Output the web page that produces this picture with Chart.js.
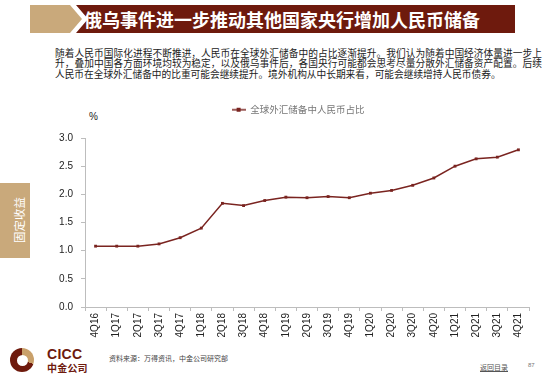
<!DOCTYPE html>
<html>
<head>
<meta charset="utf-8">
<script src="https://cdn.jsdelivr.net/npm/chart.js@4"></script>
<style>
  body { margin: 0; background: #fff; }
  #page { position: relative; width: 550px; height: 384px; overflow: hidden; font-family: "Noto Sans CJK SC", sans-serif; }
  .abs { position: absolute; }
  #tab { left: 30px; top: 5px; width: 52px; height: 28px; background: #c9a97b;
         clip-path: polygon(0 0, 40px 0, 52px 14px, 40px 28px, 0 28px); }
  #bar { left: 76px; top: 5px; width: 439px; height: 28px; background: #6e1a0d;
         clip-path: polygon(0 0, 439px 0, 439px 28px, 0 28px, 12px 14px); }
  #title { left: 84px; top: 5px; height: 28px; line-height: 28px; color: #fff; font-size: 18px; font-weight: bold; white-space: nowrap; }
  #para { left: 55px; top: 48px; width: 487px; font-size: 9.7px; line-height: 10.3px; color: #222; text-align: justify; }
  #pct { left: 89px; top: 111px; font-family: "Liberation Sans", Arial, sans-serif; font-size: 10px; color: #222; }
  #side { left: 0; top: 183px; width: 30px; height: 75px; background: #c9a97b; }
  #sideText { left: -19px; top: 213px; width: 76px; height: 14px; line-height: 14px; text-align: center; color: #fff; font-size: 11.5px; transform: rotate(-90deg); }
  #logo { left: 10px; top: 348px; width: 24px; height: 24px; border-radius: 50%;
          background: conic-gradient(#c9a06a 0deg 110deg, #6e1a0d 110deg 360deg); }
  #logoIn { left: 17px; top: 355px; width: 11px; height: 11px; border-radius: 50%; background: #fff; }
  #cicc { left: 47px; top: 346px; font-family: "Liberation Sans", Arial, sans-serif; font-weight: bold; font-size: 14px; color: #6e1a0d; letter-spacing: 0.3px; }
  #zj { left: 47px; top: 360px; font-weight: bold; font-size: 10px; color: #6e1a0d; letter-spacing: 0.2px; }
  #src { left: 109px; top: 353px; font-size: 7px; color: #444; }
  #back { left: 480px; top: 362px; font-size: 7px; color: #555; text-decoration: underline; }
  #num { left: 528px; top: 362px; font-family: "Liberation Sans", Arial, sans-serif; font-size: 6px; color: #777; }
  canvas { position: absolute; left: 0; top: 0; }
</style>
</head>
<body>
<div id="page">
  <div class="abs" id="tab"></div>
  <div class="abs" id="bar"></div>
  <div class="abs" id="title">俄乌事件进一步推动其他国家央行增加人民币储备</div>
  <div class="abs" id="para">随着人民币国际化进程不断推进，人民币在全球外汇储备中的占比逐渐提升。我们认为随着中国经济体量进一步上升，叠加中国各方面环境均较为稳定，以及俄乌事件后，各国央行可能都会思考尽量分散外汇储备资产配置。后续人民币在全球外汇储备中的比重可能会继续提升。境外机构从中长期来看，可能会继续增持人民币债券。</div>
  <div class="abs" id="pct">%</div>
  <div class="abs" id="side"></div>
  <div class="abs" id="sideText">固定收益</div>
  <div class="abs" id="logo"></div>
  <div class="abs" id="logoIn"></div>
  <div class="abs" id="cicc">CICC</div>
  <div class="abs" id="zj">中金公司</div>
  <div class="abs" id="src">资料来源：万得资讯，中金公司研究部</div>
  <div class="abs" id="back">返回目录</div>
  <div class="abs" id="num">87</div>
  <canvas id="rmbChart" width="550" height="384"></canvas>
</div>
<script>
const quarters = ['4Q16', '1Q17', '2Q17', '3Q17', '4Q17', '1Q18', '2Q18', '3Q18', '4Q18', '1Q19', '2Q19',
  '3Q19', '4Q19', '1Q20', '2Q20', '3Q20', '4Q20', '1Q21', '2Q21', '3Q21', '4Q21'];
const rmbShare = [1.08, 1.08, 1.08, 1.12, 1.23, 1.40, 1.84, 1.80, 1.89, 1.95, 1.94,
  1.96, 1.94, 2.02, 2.07, 2.16, 2.29, 2.50, 2.63, 2.66, 2.79];
const seriesName = '全球外汇储备中人民币占比';
const yTicks = [0, 0.5, 1.0, 1.5, 2.0, 2.5, 3.0];

const lineColor = '#7a2420';

// legend marker: short line with a square in the middle
const marker = document.createElement('canvas');
marker.width = 14;
marker.height = 6;
const mctx = marker.getContext('2d');
mctx.strokeStyle = lineColor;
mctx.lineWidth = 1.5;
mctx.beginPath();
mctx.moveTo(0, 3);
mctx.lineTo(14, 3);
mctx.stroke();
mctx.fillStyle = lineColor;
mctx.fillRect(5, 1, 4, 4);

// extra room under the legend, and nudge it a bit to the right
const legendSpacer = {
  id: 'legendSpacer',
  beforeInit(chart) {
    const fit = chart.legend.fit;
    chart.legend.fit = function () {
      fit.call(this);
      this.height += 13.5;
    };
  },
  afterLayout(chart) {
    chart.legend.left += 11;
    chart.legend.right += 11;
  }
};

new Chart(document.getElementById('rmbChart').getContext('2d'), {
  type: 'line',
  data: {
    labels: quarters,
    datasets: [{
      label: seriesName,
      data: rmbShare,
      borderColor: lineColor,
      backgroundColor: lineColor,
      borderWidth: 1.5,
      pointStyle: 'rect',
      pointRadius: 2,
      pointBackgroundColor: lineColor,
      pointBorderWidth: 0,
      tension: 0,
      fill: false
    }]
  },
  options: {
    responsive: false,
    animation: false,
    layout: { padding: { left: 45, right: 21, top: 95, bottom: 30 } },
    plugins: {
      tooltip: { enabled: false },
      legend: {
        display: true,
        position: 'top',
        labels: {
          usePointStyle: true,
          pointStyle: marker,
          pointStyleWidth: 14,
          padding: 10,
          color: '#777',
          font: { family: '"Noto Sans CJK SC", sans-serif', size: 9.5 }
        }
      }
    },
    scales: {
      x: {
        offset: true,
        grid: { display: true, offset: true, drawOnChartArea: false, drawTicks: true, tickLength: 4, color: '#bdbdbd' },
        border: { display: true, color: '#bdbdbd' },
        ticks: {
          autoSkip: false,
          maxRotation: 90,
          minRotation: 90,
          padding: 2,
          color: '#222',
          font: { family: '"Liberation Sans", Arial, sans-serif', size: 10 }
        },
        afterFit(scale) { scale.height = 47; }
      },
      y: {
        min: 0,
        max: 3,
        afterBuildTicks(scale) { scale.ticks = yTicks.map(v => ({ value: v })); },
        grid: { display: true, drawOnChartArea: false, drawTicks: true, tickLength: 4, color: '#bdbdbd' },
        border: { display: true, color: '#bdbdbd' },
        ticks: {
          padding: 8,
          color: '#222',
          font: { family: '"Liberation Sans", Arial, sans-serif', size: 10 },
          callback: v => Number(v).toFixed(1)
        },
        afterFit(scale) { scale.width = 40; }
      }
    }
  },
  plugins: [legendSpacer]
});
</script>
</body>
</html>
